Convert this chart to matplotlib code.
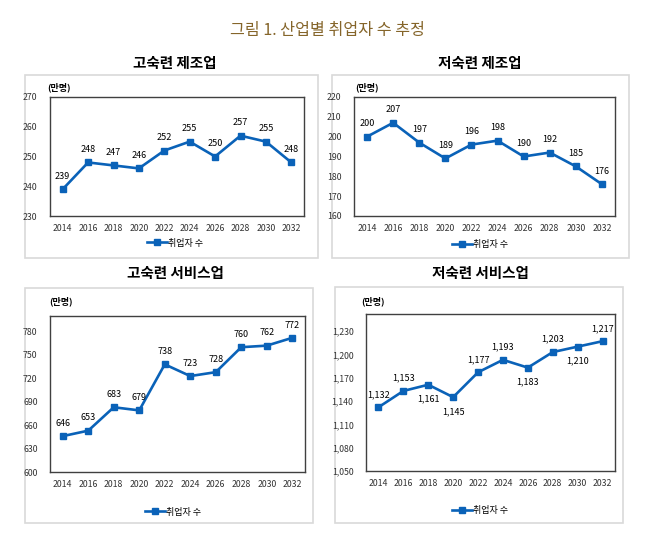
import matplotlib
matplotlib.use("Agg")
import matplotlib.pyplot as plt
from matplotlib.patches import Rectangle
from matplotlib.lines import Line2D

plt.rcParams['font.family'] = ['Noto Sans CJK KR', 'DejaVu Sans']

years = ["2014", "2016", "2018", "2020", "2022", "2024", "2026", "2028", "2030", "2032"]
high_mfg = [239, 248, 247, 246, 252, 255, 250, 257, 255, 248]
low_mfg = [200, 207, 197, 189, 196, 198, 190, 192, 185, 176]
high_svc = [646, 653, 683, 679, 738, 723, 728, 760, 762, 772]
low_svc = [1132, 1153, 1161, 1145, 1177, 1193, 1183, 1203, 1210, 1217]
low_svc_below = [False, False, True, True, False, False, True, False, True, False]

titles = ["고숙련 제조업", "저숙련 제조업", "고숙련 서비스업", "저숙련 서비스업"]
series_name = "취업자 수"
unit = "(만명)"
main_title = "그림 1. 산업별 취업자 수 추정"

W, H = 658, 552
fig = plt.figure(figsize=(W / 100, H / 100), dpi=100)
fig.patch.set_facecolor('white')

LINE = '#0a62b8'

def fx(x):
    return x / W

def fy(y):
    return 1 - y / H

def rect(x0, y0, x1, y1):
    return [fx(x0), fy(y1), fx(x1) - fx(x0), fy(y0) - fy(y1)]

fig.text(fx(328), fy(30), main_title, ha='center', va='center', fontsize=11.6, color='#85652a')

panels = [
    dict(data=high_mfg, box=(25, 75, 318, 258), ax=(50, 97, 304, 216), ylim=(230, 270),
         ticks=[230, 240, 250, 260, 270], title=titles[0], tpos=(175, 63), unit=(59, 87),
         leg=(175, 243), below=None, comma=False),
    dict(data=low_mfg, box=(332, 75, 629, 258), ax=(354, 97, 615, 216), ylim=(160, 220),
         ticks=[160, 170, 180, 190, 200, 210, 220], title=titles[1], tpos=(480, 63), unit=(367, 87),
         leg=(480, 245), below=None, comma=False),
    dict(data=high_svc, box=(25, 288, 313, 523), ax=(50, 316, 305, 472), ylim=(600, 800),
         ticks=[600, 630, 660, 690, 720, 750, 780], title=titles[2], tpos=(175, 273), unit=(61, 301),
         leg=(173, 512), below=None, comma=False),
    dict(data=low_svc, box=(335, 287, 623, 523), ax=(366, 314, 615, 471), ylim=(1050, 1252),
         ticks=[1050, 1080, 1110, 1140, 1170, 1200, 1230], title=titles[3], tpos=(480, 273), unit=(373, 301),
         leg=(480, 511), below=low_svc_below, comma=True),
]

for p in panels:
    bx = p['box']
    fig.patches.append(Rectangle((fx(bx[0]), fy(bx[3])), fx(bx[2]) - fx(bx[0]), fy(bx[1]) - fy(bx[3]),
                                 transform=fig.transFigure, facecolor='white', edgecolor='#d9d9d9',
                                 linewidth=1.2, zorder=-5))
    fig.text(fx(p['tpos'][0]), fy(p['tpos'][1]), p['title'], ha='center', va='center',
             fontsize=10.5, fontweight='bold', color='black')
    fig.text(fx(p['unit'][0]), fy(p['unit'][1]), unit, ha='center', va='center',
             fontsize=6.5, fontweight='bold', color='black')
    ax = fig.add_axes(rect(*p['ax']))
    ax.set_zorder(2)
    ax.set_facecolor('white')
    xs = list(range(len(years)))
    ax.plot(xs, p['data'], color=LINE, linewidth=1.9, marker='s', markersize=4.2,
            markerfacecolor=LINE, markeredgecolor=LINE)
    for i, v in enumerate(p['data']):
        lab = f"{v:,}" if p['comma'] else str(v)
        below = p['below'][i] if p['below'] else False
        ax.annotate(lab, (i, v), xytext=(0, -7 if below else 6), textcoords='offset points',
                    ha='center', va='top' if below else 'bottom', fontsize=6.5, color='black')
    ax.set_xlim(-0.5, len(years) - 0.5)
    ax.set_ylim(*p['ylim'])
    ax.set_xticks(xs)
    ax.set_xticklabels(years)
    ax.set_yticks(p['ticks'])
    ax.set_yticklabels([f"{t:,}" if p['comma'] else str(t) for t in p['ticks']])
    ax.tick_params(axis='both', length=0, labelsize=6.3, colors='#333333')
    ax.tick_params(axis='x', pad=6)
    ax.tick_params(axis='y', pad=9)
    for s in ax.spines.values():
        s.set_color('#404040')
        s.set_linewidth(1.0)
    handle = Line2D([0], [0], color=LINE, linewidth=1.9, marker='s', markersize=4.2)
    fig.legend([handle], [series_name], loc='center',
               bbox_to_anchor=(fx(p['leg'][0]), fy(p['leg'][1])), frameon=False,
               fontsize=6.5, handlelength=2.2, handletextpad=0.2, borderpad=0)

fig.savefig("out.png", dpi=100, facecolor='white')
